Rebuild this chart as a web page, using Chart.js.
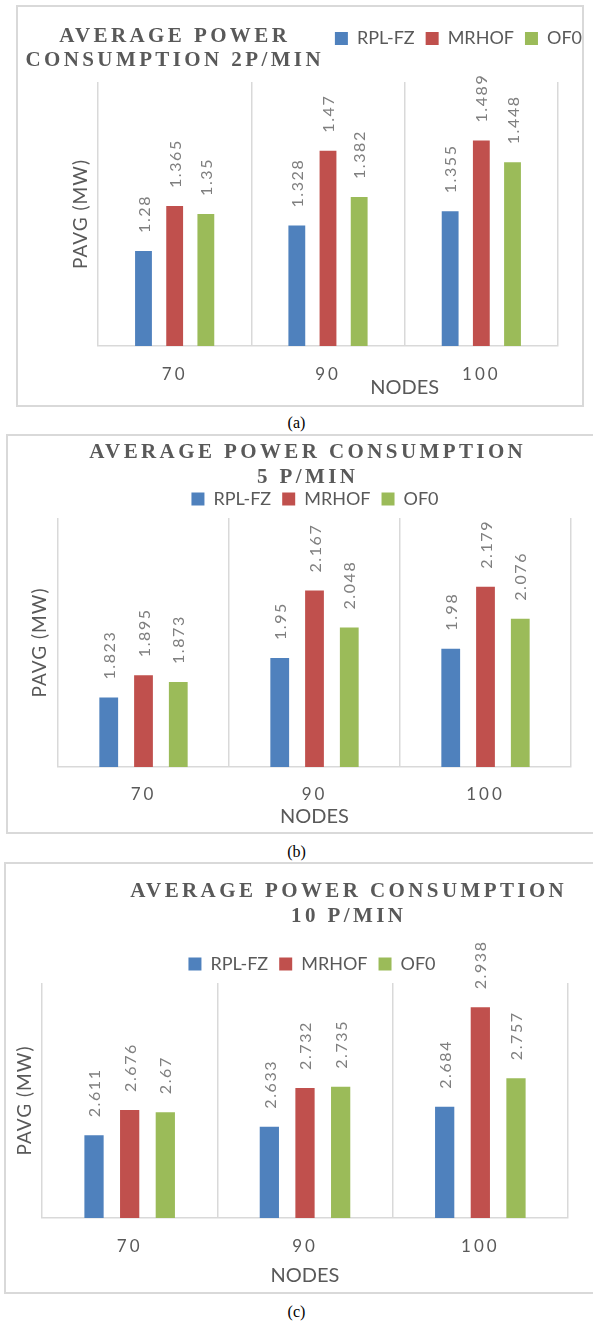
<!DOCTYPE html>
<html><head><meta charset="utf-8">
<script src="https://cdn.jsdelivr.net/npm/chart.js@4.4.1/dist/chart.umd.min.js"></script>
<style>
html,body{margin:0;padding:0;background:#fff;width:593px;height:1321px;overflow:hidden;position:relative}
.box{position:absolute;border:2px solid #d9d9d9;box-sizing:border-box}
canvas{position:absolute;left:0}
.cap{position:absolute;left:0;width:593px;text-align:center;font:16px "Liberation Serif","Times New Roman",serif;color:#000;line-height:18px}
</style></head><body>
<div class="box" style="left:16px;top:5px;width:568px;height:402px"></div>
<div class="box" style="left:6px;top:434px;width:600px;height:400px"></div>
<div class="box" style="left:4px;top:862px;width:600px;height:432px"></div>
<canvas id="cA" width="593" height="400" style="top:6px"></canvas>
<canvas id="cB" width="593" height="399" style="top:434px"></canvas>
<canvas id="cC" width="593" height="431" style="top:862px"></canvas>
<div class="cap" style="top:414px">(a)</div>
<div class="cap" style="top:843px">(b)</div>
<div class="cap" style="top:1303px">(c)</div>
<script>
// ---------- data ----------
const categories = ['70', '90', '100'];
const seriesNames = ['RPL-FZ', 'MRHOF', 'OF0'];
const seriesColors = ['#4F81BD', '#C0504D', '#9BBB59'];

const rplA = [1.28, 1.328, 1.355];
const mrhofA = [1.365, 1.47, 1.489];
const of0A = [1.35, 1.382, 1.448];
const rangeA = [1.1, 1.6];
const titleA = ['AVERAGE POWER', 'CONSUMPTION 2P/MIN'];

const rplB = [1.823, 1.95, 1.98];
const mrhofB = [1.895, 2.167, 2.179];
const of0B = [1.873, 2.048, 2.076];
const rangeB = [1.6, 2.4];
const titleB = ['AVERAGE POWER CONSUMPTION', '5 P/MIN'];

const rplC = [2.611, 2.633, 2.684];
const mrhofC = [2.676, 2.732, 2.938];
const of0C = [2.67, 2.735, 2.757];
const rangeC = [2.4, 3.0];
const titleC = ['AVERAGE POWER CONSUMPTION', '10 P/MIN'];

const xTitle = 'NODES';
const yTitle = 'PAVG (MW)';

// ---------- styling ----------
const FONT = 'Lato, "Open Sans", sans-serif';
const GRAY = '#595959';
const GRID = '#d9d9d9';
const TITLE_FONT = 'bold 21px "Liberation Serif", "Times New Roman", serif';

// ---------- plugins ----------
function textPlugin(items) {
  return {
    id: 'spacedText',
    afterDraw(chart) {
      const ctx = chart.ctx;
      items.forEach(it => {
        ctx.save();
        ctx.font = it.font;
        ctx.fillStyle = it.color;
        ctx.letterSpacing = it.spacing || '0px';
        ctx.textAlign = 'center';
        ctx.textBaseline = 'middle';
        let x = it.x;
        if (typeof it.xValue === 'number') x = chart.scales.x.getPixelForValue(it.xValue);
        ctx.fillText(it.text, x + (it.shift || 0), it.y);
        ctx.restore();
      });
    }
  };
}

const valueLabels = {
  id: 'valueLabels',
  afterDatasetsDraw(chart) {
    const ctx = chart.ctx;
    chart.data.datasets.forEach((ds, i) => {
      const meta = chart.getDatasetMeta(i);
      meta.data.forEach((bar, j) => {
        ctx.save();
        ctx.font = '16px ' + FONT;
        ctx.fillStyle = '#7f7f7f';
        ctx.letterSpacing = '1.6px';
        ctx.textAlign = 'left';
        ctx.textBaseline = 'middle';
        ctx.translate(bar.x + 1, bar.y - 18);
        ctx.rotate(-Math.PI / 2);
        ctx.fillText(String(ds.data[j]), 0, 0);
        ctx.restore();
      });
    });
  }
};

const spacingPatch = {
  id: 'spacingPatch',
  beforeDraw(chart) {
    const wrap = (obj, name, sp) => {
      if (!obj || obj['__w_' + name]) return;
      const orig = obj[name];
      obj[name] = function (...a) {
        const c = this.ctx; c.save(); c.letterSpacing = sp; orig.apply(this, a); c.restore();
      };
      obj['__w_' + name] = true;
    };
    wrap(chart.scales.x, 'drawLabels', '3px');
    wrap(chart.scales.y, 'drawTitle', '1px');
  }
};

function legendHeightPlugin(h) {
  return {
    id: 'legendBox',
    beforeInit(chart) {
      const lg = chart.legend;
      if (!lg) return;
      const fit = lg.fit;
      lg.fit = function () { fit.call(this); this.height = h; };
    }
  };
}

function makeChart(id, s) {
  const ds = [s.rpl, s.mrhof, s.of0].map((vals, i) => ({
    label: seriesNames[i],
    data: vals,
    backgroundColor: seriesColors[i],
    borderWidth: 0,
    barPercentage: 0.54,
    categoryPercentage: 0.61
  }));
  return new Chart(document.getElementById(id), {
    type: 'bar',
    data: { labels: categories, datasets: ds },
    plugins: [legendHeightPlugin(s.legendHeight), spacingPatch, valueLabels, textPlugin(s.texts)],
    options: {
      responsive: false,
      animation: false,
      events: [],
      layout: { padding: { left: s.padLeft, top: s.padTop, right: 0, bottom: 0 } },
      plugins: {
        title: { display: false },
        tooltip: { enabled: false },
        legend: {
          display: true,
          position: 'top',
          align: s.legendAlign,
          labels: {
            font: { family: FONT, size: 18 },
            color: GRAY,
            boxWidth: 13,
            boxHeight: 13,
            padding: 11
          }
        }
      },
      scales: {
        x: {
          type: 'category',
          grid: { display: true, drawTicks: false, color: GRID, lineWidth: 1.5, offset: true },
          border: { display: true, color: GRID, width: 1.5 },
          ticks: { font: { family: FONT, size: 17 }, color: GRAY, padding: s.tickPad, maxRotation: 0 },
          title: {
            display: s.xTitleShown,
            text: xTitle,
            font: { family: FONT, size: 20, lineHeight: 1.2 },
            color: GRAY,
            padding: { top: 0, bottom: s.xTitlePad }
          },
          afterFit(sc) { sc.height = s.xHeight; }
        },
        y: {
          type: 'linear',
          min: s.range[0],
          max: s.range[1],
          grid: { display: false },
          border: { display: false },
          ticks: { display: false },
          title: {
            display: true,
            text: yTitle,
            font: { family: FONT, size: 19, lineHeight: 1 },
            color: GRAY,
            padding: { top: s.yTitlePad, bottom: 0 }
          },
          afterFit(sc) { sc.width = s.yWidth; }
        },
        y2: {
          type: 'linear',
          position: 'right',
          display: true,
          grid: { display: false },
          border: { display: false },
          ticks: { display: false },
          afterFit(sc) { sc.width = s.rightWidth; }
        }
      }
    }
  });
}

makeChart('cA', {
  rpl: rplA, mrhof: mrhofA, of0: of0A, range: rangeA,
  padLeft: 0, padTop: 12.5, legendAlign: 'end', legendHeight: 63.5,
  yWidth: 98, rightWidth: 35, xHeight: 60, tickPad: 18.8,
  xTitleShown: false, xTitlePad: 0, yTitlePad: 71.5,
  texts: [
    { text: titleA[0], x: 173, y: 31, font: TITLE_FONT, color: GRAY, spacing: '3.4px', shift: 1.7 },
    { text: titleA[1], x: 173, y: 55, font: TITLE_FONT, color: GRAY, spacing: '3.4px', shift: 1.7 },
    { text: xTitle, xValue: 1.5, y: 382, font: '20px ' + FONT, color: GRAY }
  ]
});

makeChart('cB', {
  rpl: rplB, mrhof: mrhofB, of0: of0B, range: rangeB,
  padLeft: 37, padTop: 45, legendAlign: 'center', legendHeight: 39,
  yWidth: 21, rightWidth: 22, xHeight: 66, tickPad: 17.8,
  xTitleShown: true, xTitlePad: 4, yTitlePad: -6.5,
  texts: [
    { text: titleB[0], x: 306, y: 19, font: TITLE_FONT, color: GRAY, spacing: '3.4px', shift: 1.7 },
    { text: titleB[1], x: 306, y: 44, font: TITLE_FONT, color: GRAY, spacing: '3.4px', shift: 1.7 }
  ]
});

makeChart('cC', {
  rpl: rplC, mrhof: mrhofC, of0: of0C, range: rangeC,
  padLeft: 31, padTop: 82, legendAlign: 'center', legendHeight: 39,
  yWidth: 11, rightWidth: 25, xHeight: 75, tickPad: 18.8,
  xTitleShown: true, xTitlePad: 5, yTitlePad: -15.5,
  texts: [
    { text: titleC[0], x: 347, y: 30, font: TITLE_FONT, color: GRAY, spacing: '3.4px', shift: 1.7 },
    { text: titleC[1], x: 347, y: 55, font: TITLE_FONT, color: GRAY, spacing: '3.4px', shift: 1.7 }
  ]
});
</script>
</body></html>
